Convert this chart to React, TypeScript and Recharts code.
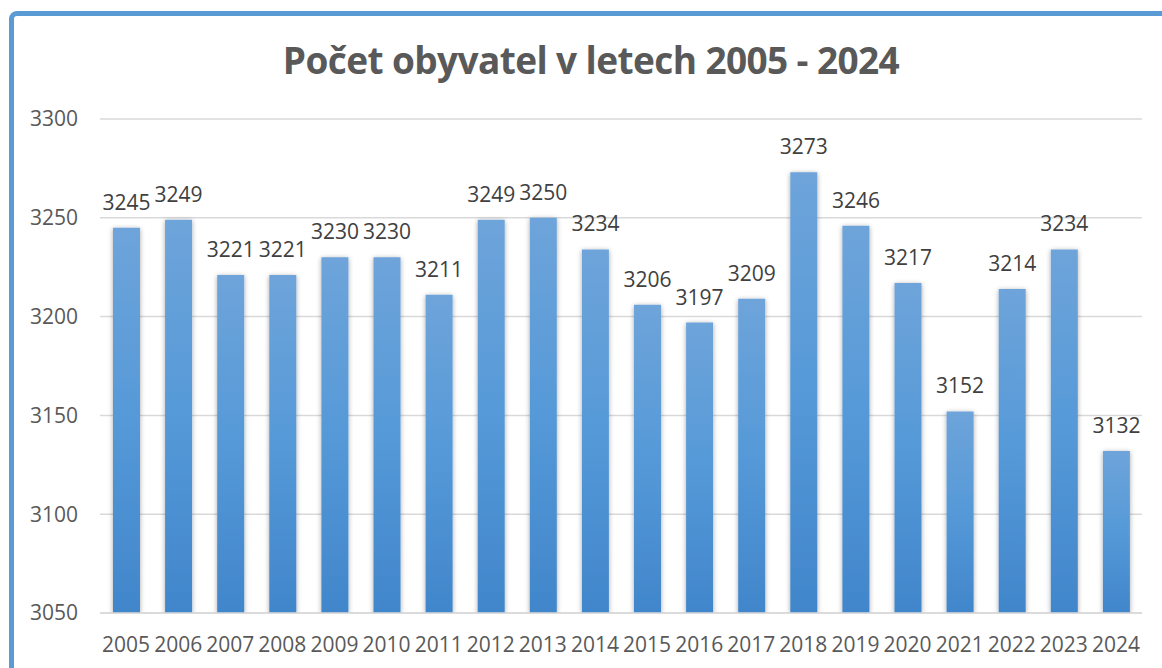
import React from 'react';
import { BarChart, Bar, XAxis, YAxis, CartesianGrid, LabelList } from 'recharts';

const years = [
  '2005', '2006', '2007', '2008', '2009', '2010', '2011', '2012', '2013', '2014',
  '2015', '2016', '2017', '2018', '2019', '2020', '2021', '2022', '2023', '2024',
];
const population = [
  3245, 3249, 3221, 3221, 3230, 3230, 3211, 3249, 3250, 3234,
  3206, 3197, 3209, 3273, 3246, 3217, 3152, 3214, 3234, 3132,
];
const yTicks = [3050, 3100, 3150, 3200, 3250, 3300];

const data = years.map((year, i) => ({ year, value: population[i] }));

const font = '"Open Sans", "Liberation Sans", sans-serif';
const textColor = '#595959';

export default function App() {
  return (
    <div
      style={{
        position: 'absolute',
        left: 0,
        top: 0,
        width: 1162,
        height: 668,
        overflow: 'hidden',
        background: '#fff',
        fontFamily: font,
      }}
    >
      {/* chart frame, only top and left edges visible */}
      <div
        style={{
          position: 'absolute',
          left: 9,
          top: 11,
          width: 1220,
          height: 720,
          border: '5px solid #5B9BD5',
          borderRadius: 8,
          boxSizing: 'border-box',
        }}
      />
      <div
        style={{
          position: 'absolute',
          left: 0,
          top: 40,
          width: 1182,
          textAlign: 'center',
          fontSize: 37,
          lineHeight: '40px',
          fontWeight: 700,
          color: textColor,
          letterSpacing: -0.6,
        }}
      >
        Počet obyvatel v letech 2005 - 2024
      </div>
      <div style={{ position: 'absolute', left: 0, top: 0 }}>
        <BarChart
          width={1162}
          height={668}
          data={data}
          margin={{ top: 119, right: 20, bottom: 25, left: 20 }}
        >
          <defs>
            <linearGradient id="barFill" x1="0" y1="0" x2="0" y2="1">
              <stop offset="0%" stopColor="#6EA4DA" />
              <stop offset="50%" stopColor="#5599D8" />
              <stop offset="100%" stopColor="#4186CB" />
            </linearGradient>
            <filter id="barShadow" x="-40%" y="-10%" width="180%" height="120%">
              <feDropShadow dx="0" dy="1" stdDeviation="2.5" floodColor="#000" floodOpacity="0.35" />
            </filter>
          </defs>
          <CartesianGrid vertical={false} stroke="#D9D9D9" strokeWidth={1.5} />
          <XAxis
            dataKey="year"
            height={30}
            stroke="#D9D9D9"
            strokeWidth={1.5}
            tickLine={false}
            tickSize={0}
            tickMargin={24}
            tick={{ fill: textColor, fontSize: 21, fontFamily: font }}
            interval={0}
          />
          <YAxis
            width={80}
            domain={[3050, 3300]}
            ticks={yTicks}
            axisLine={false}
            tickLine={false}
            tickSize={0}
            tickMargin={22}
            tick={{ fill: textColor, fontSize: 21, fontFamily: font }}
            allowDataOverflow
          />
          <Bar
            dataKey="value"
            fill="url(#barFill)"
            barSize={27}
            filter="url(#barShadow)"
            isAnimationActive={false}
          >
            <LabelList
              dataKey="value"
              position="top"
              offset={18}
              fill="#404040"
              fontSize={21}
              fontFamily={font}
            />
          </Bar>
        </BarChart>
      </div>
    </div>
  );
}
